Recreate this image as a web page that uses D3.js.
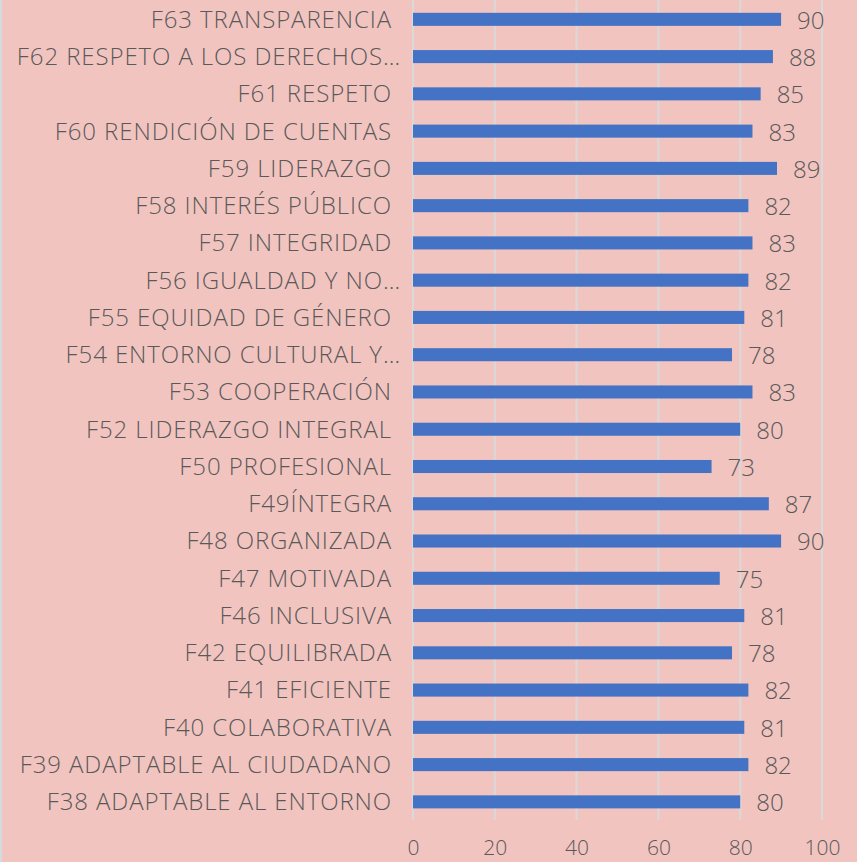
<!DOCTYPE html>
<html>
<head>
<meta charset="utf-8">
<script src="https://cdn.jsdelivr.net/npm/d3@7"></script>
<style>
  html, body { margin: 0; padding: 0; background: #f2c4c0; }
  svg { display: block; }
  text { font-family: "Open Sans", Lato, sans-serif; font-weight: 300; fill: #595959; }
</style>
</head>
<body>
<svg id="chart" width="857" height="862"></svg>
<script>
// Category labels, top to bottom
const categories = [
  "F63 TRANSPARENCIA",
  "F62 RESPETO A LOS DERECHOS…",
  "F61 RESPETO",
  "F60 RENDICIÓN DE CUENTAS",
  "F59 LIDERAZGO",
  "F58 INTERÉS PÚBLICO",
  "F57 INTEGRIDAD",
  "F56 IGUALDAD Y NO…",
  "F55 EQUIDAD DE GÉNERO",
  "F54 ENTORNO CULTURAL Y…",
  "F53 COOPERACIÓN",
  "F52 LIDERAZGO INTEGRAL",
  "F50 PROFESIONAL",
  "F49ÍNTEGRA",
  "F48 ORGANIZADA",
  "F47 MOTIVADA",
  "F46 INCLUSIVA",
  "F42 EQUILIBRADA",
  "F41 EFICIENTE",
  "F40 COLABORATIVA",
  "F39 ADAPTABLE AL CIUDADANO",
  "F38 ADAPTABLE AL ENTORNO"
];
// Score per category
const values = [90, 88, 85, 83, 89, 82, 83, 82, 81, 78, 83, 80, 73, 87, 90, 75, 81, 78, 82, 81, 82, 80];
// Axis ticks
const tickValues = [0, 20, 40, 60, 80, 100];

const data = categories.map((c, i) => ({ name: c, value: values[i] }));

const svg = d3.select("#chart");
const W = 857, H = 862;

svg.append("rect").attr("width", W).attr("height", H).attr("fill", "#f2c4c0");
svg.append("rect").attr("x", 0).attr("y", 0).attr("width", 2).attr("height", H).attr("fill", "#d3dbe0");

const x = d3.scaleLinear().domain([0, 100]).range([413, 822]);
const y = d3.scaleBand().domain(categories).range([0.7, 820.5]).paddingInner(0.65).paddingOuter(0.325);

// Vertical gridlines
svg.append("g")
  .selectAll("line")
  .data(tickValues)
  .join("line")
  .attr("x1", d => x(d)).attr("x2", d => x(d))
  .attr("y1", 0).attr("y2", 820)
  .attr("stroke", "#d9d9d9")
  .attr("stroke-width", 2);

// Bars
svg.append("g")
  .selectAll("rect")
  .data(data)
  .join("rect")
  .attr("x", x(0))
  .attr("y", d => y(d.name))
  .attr("width", d => x(d.value) - x(0))
  .attr("height", y.bandwidth())
  .attr("fill", "#4472c4");

// Category labels
svg.append("g")
  .selectAll("text")
  .data(data)
  .join("text")
  .attr("x", d => d.name.endsWith("…") ? 401 : 392)
  .attr("y", d => y(d.name) + y.bandwidth() / 2)
  .attr("dy", "0.35em")
  .attr("text-anchor", "end")
  .attr("font-size", 24)
  .attr("letter-spacing", "0.9px")
  .text(d => d.name);

// Value labels
svg.append("g")
  .selectAll("text")
  .data(data)
  .join("text")
  .attr("x", d => x(d.value) + 16)
  .attr("y", d => y(d.name) + y.bandwidth() / 2 + 1)
  .attr("dy", "0.35em")
  .attr("font-size", 24)
  .text(d => d.value);

// X axis
const axis = d3.axisBottom(x).tickValues(tickValues).tickSize(0).tickPadding(0);
const gx = svg.append("g").attr("transform", "translate(0,848)").call(axis);
gx.select(".domain").remove();
gx.selectAll("text")
  .attr("font-size", 21)
  .attr("dy", "0.35em")
  .style("font-family", "'Open Sans', Lato, sans-serif")
  .style("font-weight", 300)
  .attr("fill", "#595959");
</script>
</body>
</html>
